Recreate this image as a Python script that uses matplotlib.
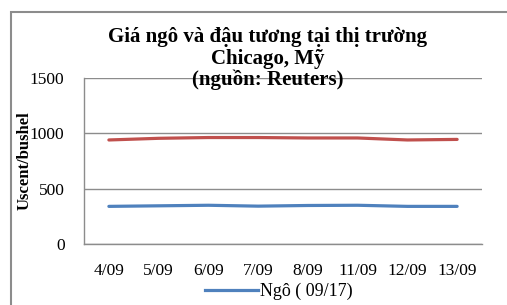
import matplotlib
matplotlib.use('Agg')
import matplotlib.pyplot as plt
from matplotlib.patches import Rectangle
from matplotlib.lines import Line2D

# data
days = ['4/09', '5/09', '6/09', '7/09', '8/09', '11/09', '12/09', '13/09']
ngo = [340, 345, 350, 342, 348, 350, 340, 340]
dau_tuong = [940, 955, 962, 962, 958, 958, 940, 945]
yticks = [0, 500, 1000, 1500]

plt.rcParams['font.family'] = ['Liberation Serif', 'DejaVu Serif']

fig = plt.figure(figsize=(5.07, 3.05), dpi=100)
ax = fig.add_axes([0.1657, 0.2, 0.785, 0.5443])

x = list(range(len(days)))
ax.plot(x, dau_tuong, color='#C0504D', lw=2.3, solid_capstyle='round')
ax.plot(x, ngo, color='#4F81BD', lw=2.3, solid_capstyle='round')

ax.set_xlim(-0.5, len(days) - 0.5)
ax.set_ylim(0, 1500)
ax.set_yticks(yticks)
ax.set_xticks(x)
ax.set_xticklabels(days, fontsize=12.5)
ax.tick_params(axis='y', labelsize=12.5, length=0, pad=14)
ax.tick_params(axis='x', length=0, pad=14)
ax.grid(axis='y', color='#8c8c8c', lw=1)
ax.set_axisbelow(True)
for s in ['top', 'right']:
    ax.spines[s].set_visible(False)
for s in ['left', 'bottom']:
    ax.spines[s].set_color('#8c8c8c')
    ax.spines[s].set_linewidth(1)

ax.set_ylabel('Uscent/bushel', fontsize=12, fontweight='bold')
ax.yaxis.set_label_coords(-0.13, 0.5)

fig.text(0.528, 0.878, 'Giá ngô và đậu tương tại thị trường', ha='center', va='center',
         fontsize=15, fontweight='bold')
fig.text(0.528, 0.806, 'Chicago, Mỹ', ha='center', va='center',
         fontsize=15, fontweight='bold')
fig.text(0.528, 0.737, '(nguồn: Reuters)', ha='center', va='center',
         fontsize=15, fontweight='bold')

# legend (only the first entry is visible in the cropped chart)
h = Line2D([], [], color='#4F81BD', lw=2.3)
fig.legend([h], ['Ngô ( 09/17)'], loc='center', bbox_to_anchor=(0.55, 0.045),
           frameon=False, fontsize=13, handlelength=2.9, handletextpad=0.1)

# outer chart border (cropped on right and bottom)
fig.patches.append(Rectangle((11 / 507, -0.1), 1.2, 0.1 + 1 - 12 / 305,
                             transform=fig.transFigure, fill=False,
                             edgecolor='#8c8c8c', lw=1.5))

fig.savefig('out.png', dpi=100)
